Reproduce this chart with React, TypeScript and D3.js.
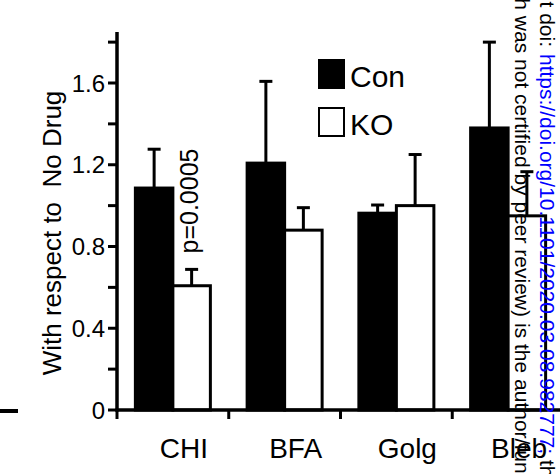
import React from 'react';
import * as d3 from 'd3';

const categories = ['CHI', 'BFA', 'Golg', 'Bleb'];
const groups = ['Con', 'KO'];
const conMeans = [1.086, 1.208, 0.963, 1.38];
const conErr = [0.19, 0.4, 0.04, 0.42];
const koMeans = [0.608, 0.88, 1.0, 0.95];
const koErr = [0.08, 0.11, 0.25, 0.216];
const majorTicks = [0, 0.4, 0.8, 1.2, 1.6];
const minorTicks = [0.2, 0.6, 1.0, 1.4, 1.8];

const W = 560;
const H = 474;
const font = '"Liberation Sans", Arial, sans-serif';

const App = () => {
  const y = d3.scaleLinear([0, 1.6], [410, 83]);
  const x0 = d3.scaleBand(categories, [117, 564]).padding(0);
  const x1 = d3.scaleBand(groups, [0, x0.bandwidth()]).paddingInner(0).paddingOuter(0.49);
  const fmt = (v: number) => (v === 0 ? '0' : d3.format('.1f')(v));

  const rows = categories.map((c, i) => [
    { cat: c, g: 'Con', v: conMeans[i], e: conErr[i] },
    { cat: c, g: 'KO', v: koMeans[i], e: koErr[i] },
  ]).flat();

  const axisX = x0.range()[0];
  const y0 = y(0);

  return (
    <svg width={W} height={H} style={{ position: 'absolute', left: 0, top: 0, background: '#fff' }}
      fontFamily={font}>
      {/* stray mark from neighbouring panel */}
      <line x1={0} x2={18} y1={y0 + 1} y2={y0 + 1} stroke="#000" strokeWidth={4} />

      {/* bars */}
      {rows.map((d, i) => {
        const bx = (x0(d.cat) ?? 0) + (x1(d.g) ?? 0);
        const bw = x1.bandwidth();
        return (
          <rect key={'b' + i} x={bx} y={y(d.v)} width={bw} height={y0 - y(d.v)}
            fill={d.g === 'Con' ? '#000' : '#fff'} stroke="#000" strokeWidth={3} />
        );
      })}

      {/* error bars (upper only) */}
      {rows.map((d, i) => {
        const cx = (x0(d.cat) ?? 0) + (x1(d.g) ?? 0) + x1.bandwidth() / 2;
        const top = y(d.v + d.e);
        return (
          <g key={'e' + i} stroke="#000" strokeWidth={3}>
            <line x1={cx} x2={cx} y1={y(d.v)} y2={top} />
            <line x1={cx - 6.5} x2={cx + 6.5} y1={top} y2={top} />
          </g>
        );
      })}

      {/* y axis */}
      <line x1={axisX} x2={axisX} y1={y(1.85)} y2={y0 + 1.5} stroke="#000" strokeWidth={3.5} />
      {[...majorTicks, ...minorTicks].map((t, i) => (
        <line key={'t' + i} x1={axisX - 9} x2={axisX} y1={y(t)} y2={y(t)} stroke="#000" strokeWidth={3} />
      ))}
      {majorTicks.map((t, i) => (
        <text key={'tl' + i} x={105} y={y(t)} dy="0.36em" textAnchor="end" fontSize={24} fill="#000">
          {fmt(t)}
        </text>
      ))}

      {/* x axis */}
      <line x1={axisX - 1.5} x2={W} y1={y0} y2={y0} stroke="#000" strokeWidth={3.5} />
      {categories.map((c, i) => (
        <line key={'xt' + i} x1={x0(c) ?? 0} x2={x0(c) ?? 0} y1={y0} y2={y0 + 9} stroke="#000" strokeWidth={3} />
      ))}
      {categories.map((c, i) => (
        <text key={'xl' + i} x={(x0(c) ?? 0) + x0.bandwidth() / 2 + 11} y={458} textAnchor="middle"
          fontSize={28} fill="#000">
          {c}
        </text>
      ))}

      {/* y axis title */}
      <text transform="translate(61,233) rotate(-90)" textAnchor="middle" fontSize={26} fill="#000"
        style={{ whiteSpace: 'pre' }}>
        {'With respect to  No Drug'}
      </text>

      {/* p value */}
      <text transform="translate(198,201) rotate(-90)" textAnchor="middle" fontSize={25} fill="#000">
        p=0.0005
      </text>

      {/* legend */}
      <rect x={318} y={59} width={27} height={30} fill="#000" />
      <text x={350} y={87} fontSize={30} fill="#000">Con</text>
      <rect x={319} y={108} width={25} height={28} fill="#fff" stroke="#000" strokeWidth={2} />
      <text x={350} y={135} fontSize={30} fill="#000">KO</text>

      {/* preprint watermark */}
      <g fontSize={21}>
        <text transform="translate(540,47) rotate(90)" textAnchor="end" fill="#000">
          bioRxiv preprint doi:
        </text>
        <text transform="translate(540,54) rotate(90)" fill="#000">
          <tspan fill="#0000ff">https://doi.org/10.1101/2020.03.08.982777</tspan>
          <tspan fill="#0000ff">;</tspan>
          <tspan> this version posted March 10, 2020.</tspan>
        </text>
        <text transform="translate(515,317) rotate(90)" textAnchor="end" fill="#000">
          The copyright holder for this preprint (which was not certified by peer review)
        </text>
        <text transform="translate(515,323) rotate(90)" fill="#000">
          is the author/funder, who has granted bioRxiv a license to display the preprint.
        </text>
      </g>
    </svg>
  );
};

export default App;
